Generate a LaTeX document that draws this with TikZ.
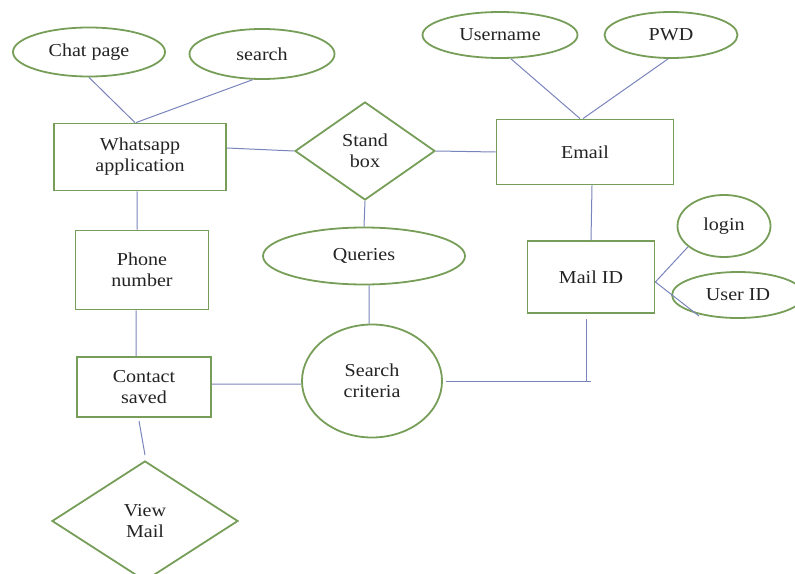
\documentclass[tikz,border=0pt]{standalone}
\usepackage{fontspec}
\setmainfont{Liberation Serif}[FakeStretch=1.1]
\usetikzlibrary{shapes.geometric}
\definecolor{egreen}{RGB}{118,158,88}
\definecolor{eline}{RGB}{122,132,188}
\definecolor{etext}{RGB}{35,35,35}
\tikzset{
  base/.style={draw=egreen, line width=1.8bp, text=etext, inner sep=0pt, align=center,
               font=\fontsize{18.3}{21}\selectfont},
  ell/.style={base, ellipse},
  boxn/.style={base, rectangle},
  dia/.style={base, diamond},
  conn/.style={draw=eline, line width=1bp}
}
\begin{document}
\begin{tikzpicture}[x=1bp,y=-1bp]
\useasboundingbox (0,0) rectangle (795,574);
% entities / attributes
\node[ell, minimum width=152bp, minimum height=49bp] (chat) at (89,52) {Chat page};
\node[ell, minimum width=145bp, minimum height=50bp] (search) at (262,54) {search};
\node[ell, minimum width=155bp, minimum height=46bp] (user) at (500,35) {Username};
\node[ell, minimum width=133bp, minimum height=46bp] (pwd) at (671,35) {PWD};
\node[boxn, minimum width=172bp, minimum height=67bp] (wa) at (140,157) {Whatsapp\\application};
\node[dia, minimum width=140bp, minimum height=98bp] (stand) at (365,151) {Stand\\box};
\node[boxn, minimum width=177bp, minimum height=65bp] (email) at (585,152) {Email};
\node[ell, minimum width=202bp, minimum height=57bp] (queries) at (364,256) {Queries};
\node[boxn, minimum width=133bp, minimum height=79bp] (phone) at (142,270) {Phone\\number};
\node[boxn, minimum width=127bp, minimum height=72bp] (mail) at (591,277) {Mail ID};
\node[ell, minimum width=93bp, minimum height=62bp] (login) at (724,226) {login};
\node[ell, minimum width=132bp, minimum height=46bp] (uid) at (738,295) {User ID};
\node[ell, minimum width=140bp, minimum height=113bp] (sc) at (372,381) {Search\\criteria};
\node[boxn, minimum width=134bp, minimum height=60bp] (contact) at (144,387) {Contact\\saved};
\node[dia, minimum width=186bp, minimum height=120bp] (view) at (145,521) {View\\Mail};
\coordinate (uidend) at (699,316);
\coordinate (mcorner) at (591,381);
% connectors
\draw[conn] (chat.south) -- ([xshift=-5bp]wa.north);
\draw[conn] (search.250) -- ([xshift=-4bp]wa.north);
\draw[conn] ([yshift=9bp]wa.east) -- (stand.west);
\draw[conn] (stand.east) -- (email.west);
\draw[conn] ([xshift=11bp]user.south) -- ([xshift=-5bp]email.north);
\draw[conn] ([xshift=-3bp]pwd.south) -- ([xshift=-2bp]email.north);
\draw[conn] (stand.south) -- (queries.north);
\draw[conn] ([xshift=5bp]queries.south) -- ([xshift=-3bp]sc.north);
\draw[conn] ([xshift=-3bp]wa.south) -- ([xshift=-5bp]phone.north);
\draw[conn] ([xshift=-6bp]phone.south) -- ([xshift=-8bp]contact.north);
\draw[conn] ([yshift=3bp]contact.east) -- ([yshift=-3bp]sc.west);
\draw[conn] ([xshift=-5bp,yshift=-3bp]contact.south) -- ([yshift=5bp]view.north);
\draw[conn] ([xshift=7bp]email.south) -- (mail.north);
\draw[conn] ([xshift=-5bp,yshift=-5bp]mail.south) |- ([xshift=3bp]sc.east);
\draw[conn] ([xshift=-5bp]mcorner) -- (mcorner);
\draw[conn] ([yshift=-5bp]mail.east) -- (login.210);
\draw[conn] ([yshift=-5bp]mail.east) -- (uidend);
\end{tikzpicture}
\end{document}
